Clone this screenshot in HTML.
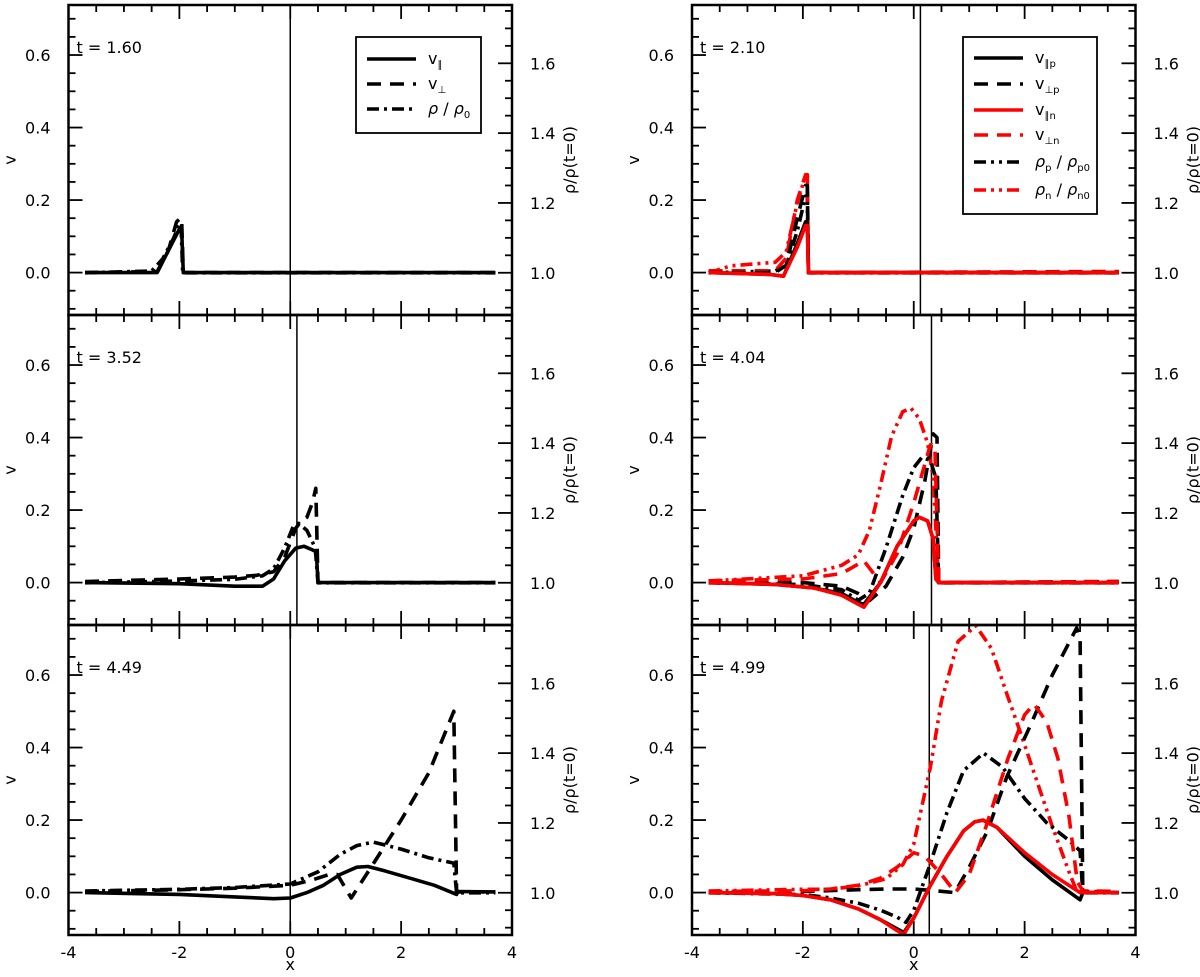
<!DOCTYPE html>
<html><head><meta charset="utf-8"><style>
html,body{margin:0;padding:0;background:#fff}
svg text{font-family:"DejaVu Sans","Liberation Sans",sans-serif;font-size:16px;fill:#000}
</style></head><body>
<svg id="chart" width="1200" height="972" xmlns="http://www.w3.org/2000/svg"></svg>
<script>
// ---------- data ----------
// Panel A t=1.60
const A_vpar_x=[-3.7,-2.4,-2.3,-2.1,-2.0,-1.96,-1.93,3.7];
const A_vpar_y=[0,0,0.03,0.09,0.12,0.12,0,0];
const A_vperp_x=[-3.7,-2.4,-2.2,-2.05,-1.98,-1.96,-1.93,3.7];
const A_vperp_y=[0,0.003,0.06,0.14,0.15,0.15,0,0];
const A_rho_x=[-3.7,-2.5,-2.3,-2.1,-2.0,-1.97,-1.94,3.7];
const A_rho_y=[1.0,1.005,1.04,1.10,1.14,1.14,1.0,1.0];
// Panel B t=3.52
const B_vpar_x=[-3.7,-2,-1,-0.5,-0.3,-0.1,0.1,0.25,0.4,0.47,0.5,3.7];
const B_vpar_y=[0,-0.003,-0.01,-0.01,0.01,0.06,0.095,0.1,0.09,0.085,0,0];
const B_vperp_x=[-3.7,-2,-1,-0.6,-0.3,-0.1,0.1,0.2,0.3,0.4,0.46,0.5,3.7];
const B_vperp_y=[0.003,0.01,0.015,0.02,0.03,0.07,0.15,0.17,0.18,0.22,0.26,0,0];
const B_rho_x=[-3.7,-2,-1,-0.5,-0.3,-0.1,0.05,0.15,0.3,0.45,0.5,3.7];
const B_rho_y=[1.0,1.005,1.01,1.02,1.04,1.10,1.16,1.17,1.15,1.1,1.0,1.0];
// Panel C t=4.49
const C_vpar_x=[-3.7,-2,-1,-0.3,0,0.3,0.6,0.9,1.2,1.4,1.7,2.2,2.6,3.0,3.02,3.7];
const C_vpar_y=[0,-0.005,-0.012,-0.017,-0.015,0,0.02,0.05,0.07,0.072,0.06,0.038,0.02,-0.005,0.003,0.002];
const C_vperp_x=[-3.7,-2,-1,0,0.4,0.7,0.85,1.1,1.5,2.0,2.5,2.95,3.0,3.05,3.7];
const C_vperp_y=[0.003,0.008,0.012,0.02,0.035,0.05,0.05,-0.015,0.08,0.2,0.33,0.5,0,0.002,0.002];
const C_rho_x=[-3.7,-2,-1,0,0.5,0.9,1.2,1.5,2.0,2.5,2.95,3.0,3.7];
const C_rho_y=[1.005,1.01,1.015,1.025,1.06,1.11,1.135,1.145,1.125,1.10,1.085,1.0,1.0];
// Panel D t=2.10
const D_vparp_x=[-3.7,-2.6,-2.35,-2.1,-1.95,-1.92,-1.9,3.7];
const D_vparp_y=[0,-0.005,-0.01,0.08,0.14,0.14,0,0];
const D_vperpp_x=[-3.7,-2.5,-2.3,-2.1,-1.95,-1.92,-1.9,3.7];
const D_vperpp_y=[0,0,0.02,0.15,0.24,0.24,0,0];
const D_vparn_x=[-3.7,-2.6,-2.35,-2.1,-1.95,-1.92,-1.9,3.7];
const D_vparn_y=[0,-0.005,-0.01,0.07,0.13,0.13,0,0];
const D_vperpn_x=[-3.7,-2.5,-2.3,-2.1,-1.95,-1.92,-1.9,3.7];
const D_vperpn_y=[0.005,0.005,0.04,0.2,0.27,0.27,0,0.003];
const D_rhop_x=[-3.7,-2.5,-2.3,-2.1,-1.95,-1.92,-1.9,3.7];
const D_rhop_y=[1.0,1.005,1.02,1.12,1.22,1.22,1.0,1.0];
const D_rhon_x=[-3.7,-3.3,-2.5,-2.3,-2.1,-1.95,-1.92,-1.9,3.7];
const D_rhon_y=[1.0,1.02,1.03,1.06,1.2,1.28,1.28,1.0,1.0];
// Panel E t=4.04
const E_vparp_x=[-3.7,-2.5,-1.8,-1.3,-1.0,-0.9,-0.6,-0.3,0,0.1,0.25,0.35,0.4,0.45,3.7];
const E_vparp_y=[0,-0.005,-0.015,-0.03,-0.055,-0.06,0,0.1,0.17,0.18,0.17,0.12,0.01,0,0];
const E_vparn_x=[-3.7,-2.5,-1.8,-1.3,-1.0,-0.9,-0.6,-0.3,0,0.1,0.25,0.35,0.4,0.45,3.7];
const E_vparn_y=[0,-0.005,-0.015,-0.035,-0.06,-0.068,0,0.1,0.17,0.18,0.17,0.12,0.01,0,0];
const E_vperpp_x=[-3.7,-2,-1.3,-1.0,-0.8,-0.5,-0.2,0,0.2,0.35,0.42,0.45,3.7];
const E_vperpp_y=[0,0.0,-0.01,-0.03,-0.05,-0.01,0.07,0.15,0.28,0.41,0.4,0,0.003];
const E_vperpn_x=[-3.7,-2,-1.3,-0.9,-0.6,-0.3,0,0.15,0.3,0.38,0.45,3.7];
const E_vperpn_y=[0.005,0.01,0.025,0.06,0.0,0.08,0.22,0.3,0.38,0.38,0,0.003];
const E_rhop_x=[-3.7,-2,-1.3,-1.0,-0.8,-0.5,-0.2,0,0.15,0.3,0.4,0.45,3.7];
const E_rhop_y=[1.0,0.995,0.98,0.95,0.97,1.1,1.25,1.33,1.36,1.35,1.3,1.0,1.0];
const E_rhon_x=[-3.7,-2,-1.3,-1.0,-0.8,-0.6,-0.4,-0.2,-0.05,0.1,0.25,0.35,0.45,3.7];
const E_rhon_y=[1.005,1.02,1.05,1.08,1.15,1.28,1.42,1.49,1.5,1.47,1.4,1.3,1.0,1.0];
// Panel F t=4.99
const F_vparp_x=[-3.7,-2.5,-2,-1.5,-1.0,-0.6,-0.3,-0.18,0,0.3,0.6,0.9,1.1,1.25,1.5,2.0,2.5,3.0,3.05,3.7];
const F_vparp_y=[0,-0.003,-0.008,-0.02,-0.045,-0.075,-0.1,-0.11,-0.07,0.02,0.1,0.17,0.195,0.2,0.18,0.1,0.035,-0.02,0,0];
const F_vparn_x=[-3.7,-2.5,-2,-1.5,-1.0,-0.6,-0.3,-0.18,0,0.3,0.6,0.9,1.1,1.25,1.5,2.0,2.5,3.0,3.05,3.7];
const F_vparn_y=[0,-0.003,-0.008,-0.02,-0.045,-0.075,-0.105,-0.115,-0.07,0.02,0.1,0.17,0.195,0.2,0.18,0.11,0.05,0,0,0];
const F_vperpp_x=[-3.7,-2,-1,-0.5,0,0.4,0.74,1.0,1.33,1.68,2.1,2.5,2.94,3.0,3.05,3.7];
const F_vperpp_y=[0,0.003,0.008,0.01,0.01,0.005,0.0,0.07,0.17,0.32,0.46,0.6,0.73,0.7,0,0];
const F_vperpn_x=[-3.7,-2,-1.5,-1.0,-0.6,-0.3,0,0.2,0.5,0.75,1.0,1.3,1.7,2.0,2.17,2.4,2.6,2.8,2.95,3.05,3.7];
const F_vperpn_y=[0.003,0.005,0.01,0.02,0.04,0.07,0.11,0.1,0.05,0.0,0.05,0.18,0.37,0.49,0.52,0.47,0.37,0.21,0.03,0.005,0.003];
const F_rhop_x=[-3.7,-2,-1.5,-1.0,-0.6,-0.3,-0.14,0,0.28,0.6,0.9,1.26,1.6,2.0,2.4,2.8,3.0,3.05,3.7];
const F_rhop_y=[1.0,0.995,0.985,0.97,0.95,0.93,0.915,0.95,1.075,1.23,1.35,1.4,1.36,1.27,1.2,1.15,1.12,1.0,1.0];
const F_rhon_x=[-3.7,-2,-1.5,-1.0,-0.5,-0.2,0,0.15,0.3,0.5,0.8,1.12,1.4,1.7,1.9,2.2,2.5,2.8,2.95,3.05,3.7];
const F_rhon_y=[1.005,1.01,1.01,1.02,1.04,1.08,1.14,1.25,1.36,1.55,1.72,1.765,1.7,1.56,1.47,1.33,1.19,1.06,1.0,1.005,1.0];
const xTickLabels=["-4","-2","0","2","4"];
const vTickLabels=["0.0","0.2","0.4","0.6"];
const rhoTickLabels=["1.0","1.2","1.4","1.6"];
const timeLabels=["1.60","3.52","4.49","2.10","4.04","4.99"];
const vlineX=[0,0.12,0.0,0.12,0.32,0.28];

// ---------- drawing ----------
const svg=document.getElementById('chart');
const NS='http://www.w3.org/2000/svg';
function mk(tag,attrs,parent){const e=document.createElementNS(NS,tag);for(const k in attrs)e.setAttribute(k,attrs[k]);(parent||svg).appendChild(e);return e;}
const PH=310, TOPS=[5,315,625], LEFTS=[68.5,692], PW=443.5;
const VMIN=-0.117, VMAX=0.738, RMIN=0.879, RMAX=1.767;
function sx(col,x){return LEFTS[col]+(x+4)/8*PW;}
function sv(row,v){return TOPS[row]+(VMAX-v)/(VMAX-VMIN)*PH;}
function sr(row,r){return TOPS[row]+(RMAX-r)/(RMAX-RMIN)*PH;}
const DASH='14,9', DASHDOT='12,5,3,5', DDD='12,5,3,5,3,5';
function series(col,row,xs,ys,color,dash,isRho,name){
  const pts=xs.map((x,i)=>sx(col,x).toFixed(1)+','+(isRho?sr(row,ys[i]):sv(row,ys[i])).toFixed(1)).join(' ');
  const p=mk('polyline',{points:pts,fill:'none',stroke:color,'stroke-width':3.6,'stroke-linejoin':'round','stroke-dasharray':dash||'none'});
  
  
}
const panels=[
 {col:0,row:0,s:[[A_vpar_x,A_vpar_y,'#000','',0,'v-par'],[A_vperp_x,A_vperp_y,'#000',DASH,0,'v-perp'],[A_rho_x,A_rho_y,'#000',DASHDOT,1,'rho']]},
 {col:0,row:1,s:[[B_vpar_x,B_vpar_y,'#000','',0,'v-par'],[B_vperp_x,B_vperp_y,'#000',DASH,0,'v-perp'],[B_rho_x,B_rho_y,'#000',DASHDOT,1,'rho']]},
 {col:0,row:2,s:[[C_vpar_x,C_vpar_y,'#000','',0,'v-par'],[C_vperp_x,C_vperp_y,'#000',DASH,0,'v-perp'],[C_rho_x,C_rho_y,'#000',DASHDOT,1,'rho']]},
 {col:1,row:0,s:[[D_rhon_x,D_rhon_y,'#f00',DDD,1,'rho-n'],[D_rhop_x,D_rhop_y,'#000',DASHDOT,1,'rho-p'],[D_vperpn_x,D_vperpn_y,'#f00',DASH,0,'v-perp-n'],[D_vperpp_x,D_vperpp_y,'#000',DASH,0,'v-perp-p'],[D_vparp_x,D_vparp_y,'#000','',0,'v-par-p'],[D_vparn_x,D_vparn_y,'#f00','',0,'v-par-n']]},
 {col:1,row:1,s:[[E_rhon_x,E_rhon_y,'#f00',DDD,1,'rho-n'],[E_rhop_x,E_rhop_y,'#000',DASHDOT,1,'rho-p'],[E_vperpp_x,E_vperpp_y,'#000',DASH,0,'v-perp-p'],[E_vperpn_x,E_vperpn_y,'#f00',DASH,0,'v-perp-n'],[E_vparp_x,E_vparp_y,'#000','',0,'v-par-p'],[E_vparn_x,E_vparn_y,'#f00','',0,'v-par-n']]},
 {col:1,row:2,s:[[F_rhon_x,F_rhon_y,'#f00',DDD,1,'rho-n'],[F_rhop_x,F_rhop_y,'#000',DASHDOT,1,'rho-p'],[F_vperpp_x,F_vperpp_y,'#000',DASH,0,'v-perp-p'],[F_vperpn_x,F_vperpn_y,'#f00',DASH,0,'v-perp-n'],[F_vparp_x,F_vparp_y,'#000','',0,'v-par-p'],[F_vparn_x,F_vparn_y,'#f00','',0,'v-par-n']]}
];
panels.forEach((P,pi)=>{
  const c=P.col,r=P.row,L=LEFTS[c],T=TOPS[r],R=L+PW,B=T+PH;
  for(let i=0;i<=16;i++){const x=L+i*PW/16;const len=i%4===0?14:7;
    mk('line',{x1:x,y1:T,x2:x,y2:T+len,stroke:'#000','stroke-width':1.8});
    mk('line',{x1:x,y1:B,x2:x,y2:B-len,stroke:'#000','stroke-width':1.8});}
  for(let k=-2;k<=14;k++){const v=k*0.05;const y=sv(r,v);if(y<T+1||y>B-1)continue;const len=k%4===0?14:7;
    mk('line',{x1:L,y1:y,x2:L+len,y2:y,stroke:'#000','stroke-width':1.8});}
  for(let k=-2;k<=15;k++){const rv=1+k*0.05;const y=sr(r,rv);if(y<T+1||y>B-1)continue;const len=k%4===0?14:7;
    mk('line',{x1:R,y1:y,x2:R-len,y2:y,stroke:'#000','stroke-width':1.8});}
  vTickLabels.forEach(s=>{const t=mk('text',{x:L-18,y:sv(r,parseFloat(s))+6,'text-anchor':'end'});t.textContent=s;
    });
  rhoTickLabels.forEach(s=>{const t=mk('text',{x:R+18,y:sr(r,parseFloat(s))+6});t.textContent=s;
    });
  const vt=mk('text',{x:0,y:0,transform:`translate(${L-53},${T+PH/2}) rotate(-90)`,'text-anchor':'middle'});vt.textContent='v';
  
  const rt=mk('text',{x:0,y:0,transform:`translate(${R+63},${T+PH/2}) rotate(-90)`,'text-anchor':'middle','font-size':'15'});rt.textContent='ρ/ρ(t=0)';
  
  const vl=mk('line',{x1:sx(c,vlineX[pi]),y1:T,x2:sx(c,vlineX[pi]),y2:B,stroke:'#000','stroke-width':1.5});
  
  P.s.forEach(s=>series(c,r,s[0],s[1],s[2],s[3],s[4],s[5]));
  const tl=mk('text',{x:L+8,y:T+48});tl.textContent='t = '+timeLabels[pi];
  
  const fr=mk('rect',{x:L,y:T,width:PW,height:PH,fill:'none',stroke:'#000','stroke-width':2.5});
  
});
[0,1].forEach(c=>{
  xTickLabels.forEach(s=>{const t=mk('text',{x:sx(c,parseFloat(s)),y:958,'text-anchor':'middle'});t.textContent=s;
    });
  const xt=mk('text',{x:sx(c,0),y:970,'text-anchor':'middle'});xt.textContent='x';
  
});
function legend(x,y,w,h,items,name){
  const g=mk('g',{});
  mk('rect',{x:x,y:y,width:w,height:h,fill:'#fff',stroke:'#000','stroke-width':1.8},g);
  items.forEach(it=>{
    mk('line',{x1:x+11,y1:it[0],x2:x+60,y2:it[0],stroke:it[1],'stroke-width':3.6,'stroke-dasharray':it[2]||'none'},g);
    const t=mk('text',{x:x+72,y:it[0]+5,'font-size':'15'},g);t.innerHTML=it[3];
  });
}
legend(356,37,125,96,[[59,'#000','','v<tspan font-size="10" dy="4">∥</tspan>'],[84,'#000',DASH,'v<tspan font-size="10" dy="4">⊥</tspan>'],[109,'#000',DASHDOT,'<tspan font-style="italic">ρ</tspan> / <tspan font-style="italic">ρ</tspan><tspan font-size="10" dy="4">0</tspan>']],'legend-left');
legend(963,37,134,177,[
 [58,'#000','','v<tspan font-size="10" dy="4">∥p</tspan>'],
 [84,'#000',DASH,'v<tspan font-size="10" dy="4">⊥p</tspan>'],
 [110,'#f00','','v<tspan font-size="10" dy="4">∥n</tspan>'],
 [135,'#f00',DASH,'v<tspan font-size="10" dy="4">⊥n</tspan>'],
 [162,'#000',DDD,'<tspan font-style="italic">ρ</tspan><tspan font-size="10" dy="4">p</tspan><tspan dy="-4"> / </tspan><tspan font-style="italic">ρ</tspan><tspan font-size="10" dy="4">p0</tspan>'],
 [190,'#f00',DDD,'<tspan font-style="italic">ρ</tspan><tspan font-size="10" dy="4">n</tspan><tspan dy="-4"> / </tspan><tspan font-style="italic">ρ</tspan><tspan font-size="10" dy="4">n0</tspan>']
],'legend-right');
</script>
</body></html>
